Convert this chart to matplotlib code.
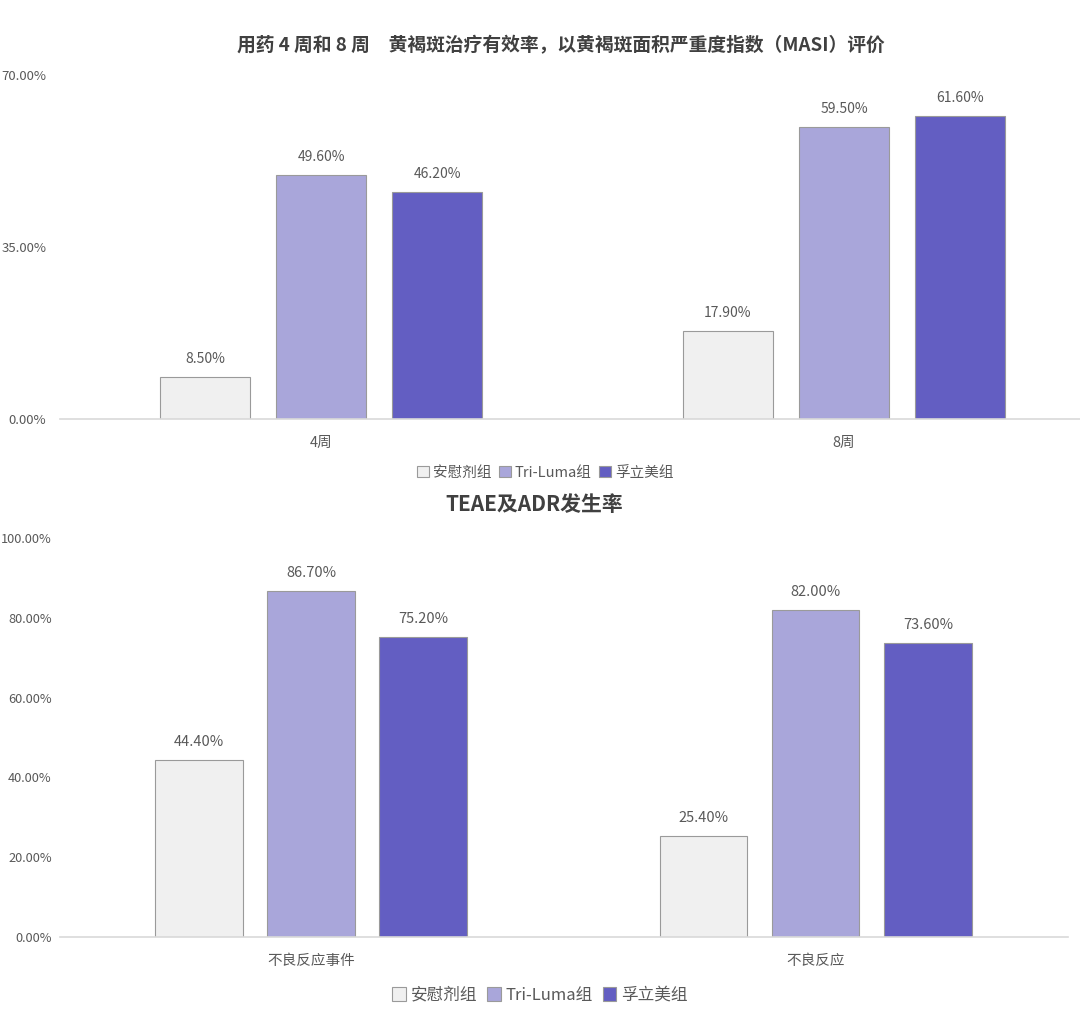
import numpy as np
import matplotlib
matplotlib.use('Agg')
import matplotlib.pyplot as plt
from matplotlib.patches import Patch

plt.rcParams['font.family'] = ['Noto Sans CJK SC', 'DejaVu Sans']

# data
groups = ['安慰剂组', 'Tri-Luma组', '孚立美组']
colors = ['#f0f0f0', '#a9a6da', '#635ec2']

masi_cats = ['4周', '8周']
masi_placebo = [8.5, 17.9]
masi_triluma = [49.6, 59.5]
masi_fulimei = [46.2, 61.6]

ae_cats = ['不良反应事件', '不良反应']
ae_placebo = [44.4, 25.4]
ae_triluma = [86.7, 82.0]
ae_fulimei = [75.2, 73.6]

text_col = '#595959'
edge_col = '#9a9a9a'

fig = plt.figure(figsize=(10.8, 10.28), dpi=100)


def draw(ax, cats, series, yticks, xlim, label_size, ypad, ysize):
    x = np.arange(len(cats))
    width = 0.173
    offs = [-0.222, 0, 0.222]
    for vals, c, o in zip(series, colors, offs):
        bars = ax.bar(x + o, vals, width, color=c, edgecolor=edge_col, linewidth=0.8)
        for b, v in zip(bars, vals):
            ax.annotate(f'{v:.2f}%', (b.get_x() + b.get_width() / 2, v),
                        xytext=(0, 8), textcoords='offset points',
                        ha='center', va='bottom', fontsize=label_size, color=text_col)
    ax.set_xticks(x)
    ax.set_xticklabels(cats, fontsize=10.5, color=text_col)
    ax.set_yticks(yticks)
    ax.set_yticklabels([f'{t:.2f}%' for t in yticks], fontsize=ysize, color=text_col)
    ax.set_ylim(0, yticks[-1])
    ax.set_xlim(*xlim)
    for s in ['top', 'right', 'left']:
        ax.spines[s].set_visible(False)
    ax.spines['bottom'].set_color('#d9d9d9')
    ax.spines['bottom'].set_linewidth(1.2)
    ax.tick_params(axis='both', length=0)
    ax.tick_params(axis='x', pad=12)
    ax.tick_params(axis='y', pad=ypad)


ax1 = fig.add_axes([0.0556, 0.5924, 0.9444, 0.3346])
draw(ax1, masi_cats, [masi_placebo, masi_triluma, masi_fulimei],
     [0, 35, 70], (-0.499, 1.451), 10, 10, 9.5)

ax2 = fig.add_axes([0.0556, 0.0885, 0.933, 0.3882])
draw(ax2, ae_cats, [ae_placebo, ae_triluma, ae_fulimei],
     [0, 20, 40, 60, 80, 100], (-0.497, 1.499), 10.5, 6, 9.2)

fig.text(0.519, 0.956, '用药 4 周和 8 周　黄褐斑治疗有效率，以黄褐斑面积严重度指数（MASI）评价',
         ha='center', va='center', fontsize=13.5, fontweight='bold', color='#404040')
fig.text(0.495, 0.509, 'TEAE及ADR发生率', ha='center', va='center',
         fontsize=15, fontweight='bold', color='#404040')

handles = [Patch(facecolor=c, edgecolor=edge_col, linewidth=0.8) for c in colors]
fig.legend(handles, groups, loc='center', bbox_to_anchor=(0.505, 0.540), ncol=3,
           frameon=False, fontsize=10.5, handlelength=0.8, handleheight=0.8,
           handletextpad=0.3, columnspacing=0.5, labelcolor=text_col)
fig.legend(handles, groups, loc='center', bbox_to_anchor=(0.5, 0.032), ncol=3,
           frameon=False, fontsize=12, handlelength=0.8, handleheight=0.9,
           handletextpad=0.3, columnspacing=0.6, labelcolor=text_col)

fig.savefig('out.png', dpi=100)
